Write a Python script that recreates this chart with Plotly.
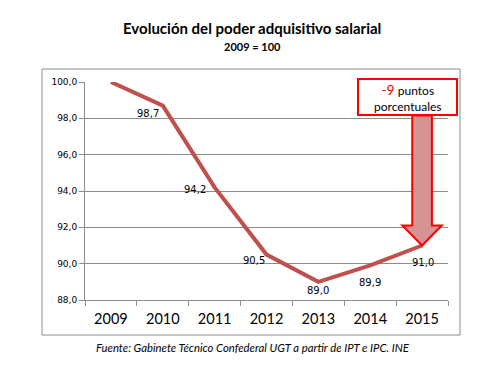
import plotly.graph_objects as go

years = [2009, 2010, 2011, 2012, 2013, 2014, 2015]
year_labels = ["2009", "2010", "2011", "2012", "2013", "2014", "2015"]
values = [100.0, 98.7, 94.2, 90.5, 89.0, 89.9, 91.0]
show_label = [False, True, True, True, True, True, True]
y_ticks = [88, 90, 92, 94, 96, 98, 100]

# label offsets (pixels) from each point
label_dx = [0, -15, -20, -13, 0, 0, 1]
label_dy = [0, -8, -2, -6, -9, -17, -17]

LINE = "#C0504D"

fig = go.Figure()
fig.add_trace(go.Scatter(
    x=years, y=values, mode="lines",
    line=dict(color=LINE, width=4),
    cliponaxis=False, hoverinfo="skip", showlegend=False,
))
for x, v, s, dx, dy in zip(years, values, show_label, label_dx, label_dy):
    if s:
        fig.add_annotation(x=x, y=v, xref="x", yref="y", text=f"{v:.1f}".replace(".", ","),
                           showarrow=False, xshift=dx, yshift=dy,
                           font=dict(family="DejaVu Sans", size=10, color="#000"),
                           xanchor="center", yanchor="middle")

# arrow from annotation box down to last point
x_tip = years[-1]
y_tip = values[-1]
hw, hh = 0.19, 0.38
y_top, y_head = 98.15, 92.1
path = (f"M {x_tip-hw},{y_top} L {x_tip+hw},{y_top} L {x_tip+hw},{y_head} "
        f"L {x_tip+hh},{y_head} L {x_tip},{y_tip} L {x_tip-hh},{y_head} "
        f"L {x_tip-hw},{y_head} Z")
fig.add_shape(type="path", path=path, xref="x", yref="y",
              fillcolor="#D69393", line=dict(color="#FF0000", width=2), layer="above")

L, R, T, B = 85, 56, 82, 66
W, H = 504, 366
pw, ph = W - L - R, H - T - B
def px(x): return (x - L) / pw
def py(y): return (H - B - y) / ph

# outer chart border
fig.add_shape(type="rect", xref="paper", yref="paper",
              x0=px(42), x1=px(460), y0=py(335), y1=py(69),
              line=dict(color="#8C8C8C", width=1), fillcolor="rgba(0,0,0,0)", layer="below")

# annotation box
fig.add_shape(type="rect", xref="paper", yref="paper",
              x0=px(358), x1=px(457), y0=py(115), y1=py(79),
              line=dict(color="#FF0000", width=2), fillcolor="white", layer="above")
fig.add_annotation(xref="paper", yref="paper", x=px(407.5), y=py(97),
                   text="<span style='color:#FF0000;font-size:14px'>-9</span> puntos<br>porcentuales",
                   showarrow=False, font=dict(family="Lato", size=12, color="#000"),
                   align="center", xanchor="center", yanchor="middle")

# titles
fig.add_annotation(xref="paper", yref="paper", x=px(252), y=py(28),
                   text="<b>Evolución del poder adquisitivo salarial</b>",
                   showarrow=False, font=dict(family="Lato", size=15, color="#000"),
                   xanchor="center", yanchor="middle")
fig.add_annotation(xref="paper", yref="paper", x=px(252), y=py(46),
                   text="<b>2009 = 100</b>",
                   showarrow=False, font=dict(family="Lato", size=11, color="#000"),
                   xanchor="center", yanchor="middle")
fig.add_annotation(xref="paper", yref="paper", x=px(253), y=py(347),
                   text="<i>Fuente: Gabinete Técnico Confederal UGT a partir de IPT e IPC. INE</i>",
                   showarrow=False, font=dict(family="Lato", size=11.3, color="#000"),
                   xanchor="center", yanchor="middle")

fig.update_layout(
    width=W, height=H, margin=dict(l=L, r=R, t=T, b=B),
    paper_bgcolor="white", plot_bgcolor="white",
    separators=",.",
    xaxis=dict(range=[2008.5, 2015.5], tickvals=years, ticktext=year_labels,
               ticks="", showgrid=False, zeroline=False,
               showline=True, linecolor="#8C8C8C", linewidth=1,
               ticklabelstandoff=6,
               tickfont=dict(family="Lato", size=14.5, color="#000"),
               minor=dict(tickvals=[y + 0.5 for y in [2008] + years], ticks="outside",
                          ticklen=5, tickcolor="#8C8C8C", showgrid=False)),
    yaxis=dict(range=[88, 100], tickvals=y_ticks, tickformat=".1f",
               ticks="outside", ticklen=5, tickcolor="#8C8C8C",
               showgrid=True, gridcolor="#8C8C8C", gridwidth=1, zeroline=False,
               showline=True, linecolor="#8C8C8C", linewidth=1,
               tickfont=dict(family="DejaVu Sans", size=9, color="#000")),
)

fig.write_html("out.html", config={"displayModeBar": False},
               post_script="document.body.style.margin='0px';")
